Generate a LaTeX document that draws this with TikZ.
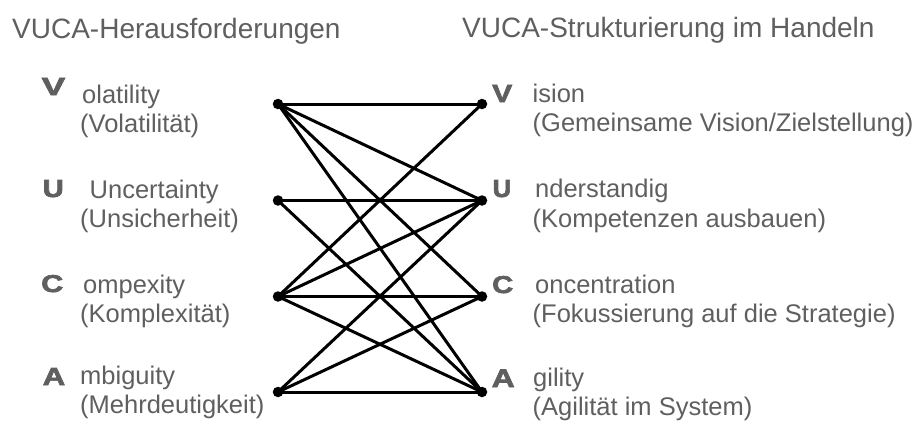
\documentclass[tikz,border=0pt]{standalone}
\usepackage{fontspec}
\setmainfont{Liberation Sans}
\newfontface\heavyface[FakeBold=2.5]{Liberation Sans Bold}
\definecolor{txtgray}{RGB}{95,95,95}
\definecolor{letgray}{RGB}{95,95,95}
\tikzset{
  lbl/.style={anchor=base west, inner sep=0pt, text=txtgray, font=\fontsize{25.5}{29}\selectfont},
  ttl/.style={anchor=base west, inner sep=0pt, text=txtgray, font=\fontsize{28}{32}\selectfont},
  letter/.style={anchor=base west, inner sep=0pt, text=letgray, font=\heavyface\fontsize{24}{28}\selectfont},
  dot/.style={circle, fill=black, inner sep=0pt, minimum size=10.5pt},
  link/.style={line width=3pt, black}
}
\begin{document}
\begin{tikzpicture}[x=1pt,y=-1pt]
\useasboundingbox (0,0) rectangle (918,426);
% titles
\node[ttl] (t1) at (12,38) {VUCA-Herausforderungen};
\node[ttl] (t2) at (462,37) {VUCA-Strukturierung im Handeln};
% left letters
\node[letter] (lvl) at (41.5,95) {\resizebox{23.5pt}{17pt}{V}};
\node[letter] (lul) at (42.5,197) {\resizebox{21pt}{17pt}{U}};
\node[letter] (lcl) at (41,292) {\resizebox{22pt}{17pt}{C}};
\node[letter] (lal) at (42.5,385) {\resizebox{22.5pt}{17pt}{A}};
% left labels
\node[lbl] (lv1) at (82,103) {olatility};
\node[lbl] (lv2) at (80,132) {(Volatilität)};
\node[lbl] (lu1) at (89.5,198) {Uncertainty};
\node[lbl] (lu2) at (80,227) {(Unsicherheit)};
\node[lbl] (lc1) at (83,293) {ompexity};
\node[lbl] (lc2) at (80,322) {(Komplexität)};
\node[lbl] (la1) at (80,384) {mbiguity};
\node[lbl] (la2) at (80,413) {(Mehrdeutigkeit)};
% right letters
\node[letter] (rvl) at (492,102) {\resizebox{20pt}{17pt}{V}};
\node[letter] (rul) at (492.5,197) {\resizebox{18.5pt}{17pt}{U}};
\node[letter] (rcl) at (492,293) {\resizebox{21pt}{17pt}{C}};
\node[letter] (ral) at (491.5,387) {\resizebox{23pt}{17.5pt}{A}};
% right labels
\node[lbl] (rv1) at (532.5,102) {ision};
\node[lbl] (rv2) at (532.5,131) {(Gemeinsame Vision/Zielstellung)};
\node[lbl] (ru1) at (535,197) {nderstandig};
\node[lbl] (ru2) at (532.5,227) {(Kompetenzen ausbauen)};
\node[lbl] (rc1) at (535,293) {oncentration};
\node[lbl] (rc2) at (532.5,322) {(Fokussierung auf die Strategie)};
\node[lbl] (ra1) at (533,386) {gility};
\node[lbl] (ra2) at (532.5,415) {(Agilität im System)};
% dots
\node[dot] (LV) at (278,104) {};
\node[dot] (LU) at (278,200.5) {};
\node[dot] (LC) at (278,296.5) {};
\node[dot] (LA) at (278,392) {};
\node[dot] (RV) at (482,104) {};
\node[dot] (RU) at (482,200.5) {};
\node[dot] (RC) at (482,296.5) {};
\node[dot] (RA) at (482,392) {};
% connectors
\draw[link] (LV.center) -- (RV.center);
\draw[link] (LV.center) -- (RU.center);
\draw[link] (LV.center) -- (RC.center);
\draw[link] (LV.center) -- (RA.center);
\draw[link] (LU.center) -- (RU.center);
\draw[link] (LU.center) -- (RA.center);
\draw[link] (LC.center) -- (RV.center);
\draw[link] (LC.center) -- (RU.center);
\draw[link] (LC.center) -- (RC.center);
\draw[link] (LC.center) -- (RA.center);
\draw[link] (LA.center) -- (RU.center);
\draw[link] (LA.center) -- (RC.center);
\draw[link] (LA.center) -- (RA.center);
\end{tikzpicture}
\end{document}
